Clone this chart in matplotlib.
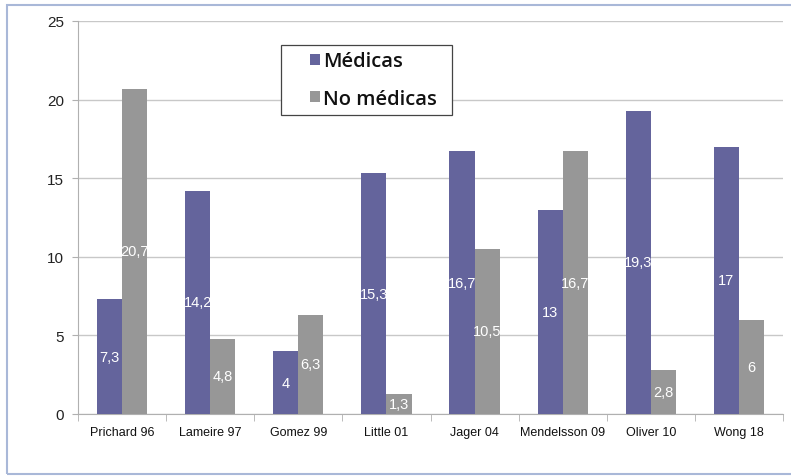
import matplotlib.pyplot as plt
import numpy as np
from matplotlib.patches import Rectangle

estudios = ['Prichard 96', 'Lameire 97', 'Gomez 99', 'Little 01',
            'Jager 04', 'Mendelsson 09', 'Oliver 10', 'Wong 18']
medicas = [7.3, 14.2, 4, 15.3, 16.7, 13, 19.3, 17]
no_medicas = [20.7, 4.8, 6.3, 1.3, 10.5, 16.7, 2.8, 6]
y_ticks = [0, 5, 10, 15, 20, 25]

col_med = '#64649c'
col_no = '#979797'

plt.rcParams['font.family'] = ['Liberation Sans', 'DejaVu Sans']

W, H = 791, 477
fig = plt.figure(figsize=(W / 100, H / 100), dpi=100)


def px(x0, y0, w, h):
    # pixel box (from top left) -> figure fraction
    return (x0 / W, 1 - (y0 + h) / H, w / W, h / H)


# light blue frame round the chart
x0, y0, w, h = px(7, 6, 800, 469)
fig.patches.append(Rectangle((x0, y0), w, h, transform=fig.transFigure,
                             fill=False, edgecolor='#a9b8d8', linewidth=1.5))

ax = fig.add_axes(px(78, 22, 705, 393))

x = np.arange(len(estudios))
bw = 0.285
b1 = ax.bar(x - bw / 2, medicas, bw, color=col_med, label='Médicas', zorder=3)
b2 = ax.bar(x + bw / 2, no_medicas, bw, color=col_no, label='No médicas', zorder=3)


def fmt(v):
    return ('%g' % v).replace('.', ',')


for bars, vals in ((b1, medicas), (b2, no_medicas)):
    for r, v in zip(bars, vals):
        ax.text(r.get_x() + r.get_width() / 2, v / 2, fmt(v), color='white',
                ha='center', va='center', fontsize=10.5, zorder=4)

ax.set_xlim(-0.5, len(estudios) - 0.5)
ax.set_ylim(0, 25)
ax.set_yticks(y_ticks)
ax.set_yticklabels([str(t) for t in y_ticks], fontsize=11, color='#222222')
ax.yaxis.grid(True, color='#c8c8c8', linewidth=1, zorder=0)
ax.tick_params(axis='y', length=4, color='#b0b0b0', pad=6)

ax.set_xticks(x)
ax.set_xticklabels(estudios, fontsize=9, color='#111111')
ax.tick_params(axis='x', length=0, pad=9)
ax.set_xticks(np.arange(-0.5, len(estudios)), minor=True)
ax.tick_params(axis='x', which='minor', length=5, color='#b0b0b0')

for s in ('top', 'right'):
    ax.spines[s].set_visible(False)
for s in ('left', 'bottom'):
    ax.spines[s].set_color('#b0b0b0')

# legend box drawn by hand, legend itself without frame
lx, ly, lw, lh = px(281, 46, 171, 70)
ax.add_patch(Rectangle((lx, ly), lw, lh, transform=fig.transFigure,
                       facecolor='white', edgecolor='#444444',
                       linewidth=0.9, zorder=5, clip_on=False))
leg = ax.legend(loc='center left', bbox_to_anchor=(310 / W, 1 - 81 / H),
                bbox_transform=fig.transFigure,
                prop={'family': ['Open Sans', 'DejaVu Sans'],
                      'weight': 'semibold', 'size': 14.5},
                frameon=False, handlelength=0.5, handleheight=0.5,
                handletextpad=0.15, labelspacing=0.85, borderpad=0,
                borderaxespad=0)
leg.set_zorder(6)
for t in leg.get_texts():
    t.set_color('#111111')

fig.savefig('out.png', dpi=100)
